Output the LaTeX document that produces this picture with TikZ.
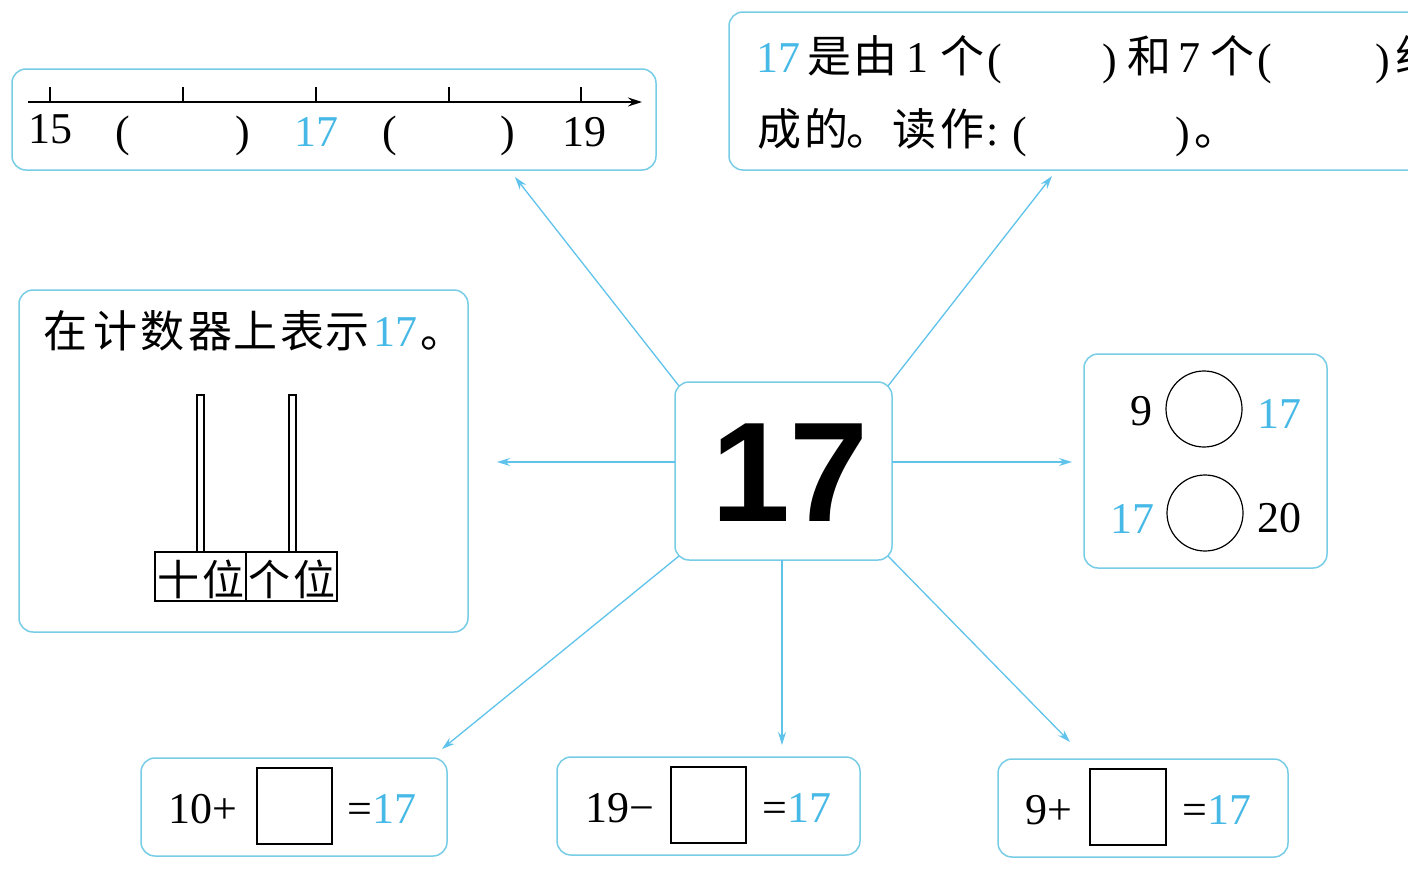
\documentclass[tikz,border=0pt]{standalone}
\usepackage{fontspec}
\setmainfont{Liberation Serif}
\newfontfamily\cjk{Noto Sans CJK SC}
\newfontfamily\bigsans{Liberation Sans}
\usetikzlibrary{arrows.meta,calc}
\definecolor{boxc}{RGB}{120,205,230}
\definecolor{linec}{RGB}{95,195,235}
\definecolor{cyt}{RGB}{70,185,230}
\tikzset{
 panel/.style={draw=boxc, line width=1.5pt, rounded corners=14pt, inner sep=0pt, outer sep=0pt, fill=white},
 link/.style={draw=linec, line width=1.3pt, -{Stealth[length=13pt,width=8pt]}},
 hz/.style={inner sep=0pt, anchor=base, font={\cjk\fontsize{44}{50}\selectfont}},
 hzs/.style={hz, font={\cjk\fontsize{42}{48}\selectfont}},
 num/.style={inner sep=0pt, anchor=base, font={\fontsize{44}{50}\selectfont}},
 cy/.style={text=cyt},
 blackbox/.style={draw=black, line width=1.2pt, inner sep=0pt, outer sep=0pt},
}
\begin{document}
\begin{tikzpicture}[x=1pt,y=-1pt]
\useasboundingbox (0,0) rectangle (1408,878);
\fill[white] (0,0) rectangle (1408,878);
\clip (0,0) rectangle (1408,878);

% ---- connectors (drawn first, panels cover their start) ----
\node[panel, minimum width=217pt, minimum height=178pt] (c) at (783.5,471) {};
\coordinate (pTL) at (515,177);
\coordinate (pTR) at (1052,176);
\coordinate (pL) at (497,462);
\coordinate (pR) at (1072,462);
\coordinate (pBL) at (442,749);
\coordinate (pB) at (782,745);
\coordinate (pBR) at (1070,742);
\draw[link] ($(c.north west)+(4,4)$) -- (pTL);
\draw[link] ($(c.north east)+(-4,4)$) -- (pTR);
\draw[link] (c.west |- pL) -- (pL);
\draw[link] (c.east |- pR) -- (pR);
\draw[link] ($(c.south west)+(4,-4)$) -- (pBL);
\draw[link] (c.south -| pB) -- (pB);
\draw[link] ($(c.south east)+(-4,-4)$) -- (pBR);
\node[inner sep=0pt, anchor=base, font={\bigsans\bfseries\fontsize{142}{150}\selectfont}] (big) at (790,521) {17};

% ---- panels ----
\node[panel, minimum width=644pt, minimum height=101pt] (nl) at (334,119.5) {};
\node[panel, minimum width=711pt, minimum height=158pt] (tr) at (1084.5,91) {};
\node[panel, minimum width=449pt, minimum height=342pt] (ab) at (243.5,461) {};
\node[panel, minimum width=243pt, minimum height=214pt] (cmp) at (1205.5,461) {};
\node[panel, minimum width=306pt, minimum height=98pt] (e1) at (294,807) {};
\node[panel, minimum width=303pt, minimum height=98pt] (e2) at (708.5,806) {};
\node[panel, minimum width=290pt, minimum height=98pt] (e3) at (1143,808) {};

% ---- number line ----
\coordinate (nlA) at (28,102);
\coordinate (nlB) at (642,102);
\draw[line width=1.3pt, -{Stealth[length=14pt,width=9pt]}] (nlA) -- (nlB);
\foreach \x in {50,183,316,449,581} \draw[line width=1.1pt] (\x,87) -- (\x,102);
\node[num] (n15) at (50,143) {15};
\node[num] (p1) at (123,146) {(};
\node[num] (p2) at (243,146) {)};
\node[num, cy] (n17) at (316,146) {17};
\node[num] (p3) at (390,146) {(};
\node[num] (p4) at (508,146) {)};
\node[num] (n19) at (584,146) {19};

% ---- top right text ----
\node[num, cy] (t17) at (778,72) {17};
\node[hz] (t1) at (829,72) {是};
\node[hz] (t2) at (875,72) {由};
\node[num] (t3) at (917,72) {1};
\node[hz] (t4) at (962,72) {个};
\node[num] (t5) at (995,74) {(};
\node[num] (t6) at (1110,74) {)};
\node[hz] (t7) at (1149,72) {和};
\node[num] (t8) at (1189,72) {7};
\node[hz] (t9) at (1232,72) {个};
\node[num] (t10) at (1265,74) {(};
\node[num] (t11) at (1383,74) {)};
\node[hz] (t12) at (1417,72) {组};
\node[hz] (u1) at (779,145) {成};
\node[hz] (u2) at (826,145) {的};
\node[hz, anchor=base west] (u3) at (846,145) {。};
\node[hz] (u4) at (914,145) {读};
\node[hz] (u5) at (962,145) {作};
\node[num] (u6) at (993,145) {:};
\node[num] (u7) at (1020,147) {(};
\node[num] (u8) at (1183,147) {)};
\node[hz, anchor=base west] (u9) at (1194,145) {。};

% ---- abacus panel ----
\node[hz] (a1) at (65,347) {在};
\node[hz] (a2) at (115,347) {计};
\node[hz] (a3) at (162,347) {数};
\node[hz] (a4) at (210,347) {器};
\node[hz] (a5) at (255,347) {上};
\node[hz] (a6) at (302,347) {表};
\node[hz] (a7) at (347,347) {示};
\node[num, cy] (a8) at (395,346) {17};
\node[hz, anchor=base west] (a9) at (420,347) {。};
\draw[line width=1.1pt] (197,395) rectangle (204,552);
\draw[line width=1.1pt] (289,395) rectangle (296,552);
\node[blackbox, minimum width=91pt, minimum height=49pt] (tens) at (200.5,576.5) {};
\node[blackbox, minimum width=91pt, minimum height=49pt] (ones) at (291.5,576.5) {};
\node[hzs] (b1) at (178,595) {十};
\node[hzs] (b2) at (223,595) {位};
\node[hzs] (b3) at (269,595) {个};
\node[hzs] (b4) at (314,595) {位};

% ---- compare panel ----
\node[circle, draw, line width=1.2pt, minimum size=76pt, inner sep=0pt] (o1) at (1204,409) {};
\node[circle, draw, line width=1.2pt, minimum size=76pt, inner sep=0pt] (o2) at (1205,513) {};
\node[num] (c9) at (1141,425) {9};
\node[num, cy] (c17a) at (1279,428) {17};
\node[num, cy] (c17b) at (1132,533) {17};
\node[num] (c20) at (1279,532) {20};

% ---- equations ----
\node[blackbox, minimum width=75pt, minimum height=76pt] (s1) at (294.5,806) {};
\node[blackbox, minimum width=75pt, minimum height=76pt] (s2) at (708.5,805) {};
\node[blackbox, minimum width=76pt, minimum height=76pt] (s3) at (1128,807) {};
\node[num, anchor=base west] (q1) at (168,823) {10+};
\node[num, anchor=base west] (r1) at (347,823) {=\textcolor{cyt}{17}};
\node[num, anchor=base west] (q2) at (585,822) {19−};
\node[num, anchor=base west] (r2) at (762,822) {=\textcolor{cyt}{17}};
\node[num, anchor=base west] (q3) at (1025,824) {9+};
\node[num, anchor=base west] (r3) at (1182,824) {=\textcolor{cyt}{17}};
\end{tikzpicture}
\end{document}
